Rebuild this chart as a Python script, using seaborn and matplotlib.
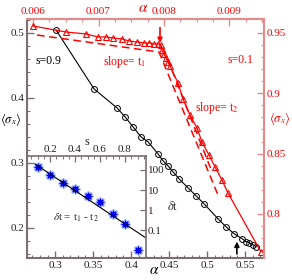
import seaborn as sns
import matplotlib.pyplot as plt
import matplotlib.ticker as mticker
import numpy as np

sns.set_style('ticks')
plt.rcParams['font.family'] = ['Liberation Serif', 'DejaVu Serif']
plt.rcParams['mathtext.fontset'] = 'stix'

# black series: s=0.9, bottom alpha vs left <sigma_x>
alpha_s09 = [0.3012, 0.3512, 0.3814, 0.3920, 0.4025, 0.4130, 0.4222, 0.4354, 0.4420,
             0.4485, 0.4551, 0.4630, 0.4748, 0.4854, 0.4959, 0.5143, 0.5248, 0.5354,
             0.5459, 0.5512, 0.5551, 0.5604, 0.5643]
sigma_s09 = [0.5046, 0.4138, 0.3846, 0.3708, 0.3554, 0.3400, 0.3323, 0.3138, 0.3030,
             0.2954, 0.2862, 0.2754, 0.2615, 0.2492, 0.2369, 0.2138, 0.2015, 0.1908,
             0.1831, 0.1785, 0.1769, 0.1738, 0.1708]

# red series: s=0.1, top alpha vs right <sigma_x>
alpha_s01 = [0.006000, 0.006504, 0.006809, 0.006992, 0.007115, 0.007221, 0.007359,
             0.007466, 0.007588, 0.007695, 0.007771, 0.007847, 0.007908, 0.007954,
             0.007969, 0.007999, 0.008030, 0.008060, 0.008091, 0.008214, 0.008290,
             0.008397, 0.008504, 0.008580, 0.008687, 0.008779, 0.008885, 0.008977,
             0.009481]
sigma_s01 = [0.9558, 0.9508, 0.9492, 0.9467, 0.9467, 0.9459, 0.9450, 0.9434, 0.9425,
             0.9417, 0.9417, 0.9409, 0.9409, 0.9400, 0.9359, 0.9326, 0.9293, 0.9260,
             0.9226, 0.9085, 0.8953, 0.8820, 0.8712, 0.8596, 0.8488, 0.8389, 0.8281,
             0.8173, 0.7684]

# dashed guide lines (slopes t1, t2)
fit1_alpha = [0.006061, 0.007924, 0.008824]
fit1_sigma = [0.9483, 0.9342, 0.8157]
fit2_alpha = [0.007985, 0.008710]
fit2_sigma = [0.9380, 0.8380]

# inset: delta t vs s
s_vals = [0.1, 0.2, 0.3, 0.4, 0.5, 0.6, 0.7, 0.8, 0.9]
dt_vals = [141, 56, 22.4, 11.2, 5.0, 2.5, 0.63, 0.2, 0.01]
dt_fit_s = [0.08, 0.968]
dt_fit = [200, 0.04]

W, H = 292, 280
fig = plt.figure(figsize=(W / 100, H / 100), dpi=100)

def px(x0, y0, x1, y1):
    return [x0 / W, 1 - y1 / H, (x1 - x0) / W, (y1 - y0) / H]

gray = '#7a6e6e'
pink = '#e58a8a'
red = '#ff0000'

ax = fig.add_axes(px(27, 19, 264, 258))
ax2 = fig.add_axes(px(27, 19, 264, 258), facecolor='none')
ins = fig.add_axes(px(27, 156, 146, 258), facecolor='none')

# main black axis
sns.lineplot(x=alpha_s09, y=sigma_s09, ax=ax, color='black', lw=0.8, sort=False,
             estimator=None, marker='o', markersize=4.2, markerfacecolor='none',
             markeredgecolor='black', markeredgewidth=0.7)
ax.set_xlim(0.263, 0.575)
ax.set_ylim(0.1532, 0.5215)
ax.xaxis.set_major_locator(mticker.MultipleLocator(0.05))
ax.xaxis.set_minor_locator(mticker.MultipleLocator(0.01))
ax.yaxis.set_major_locator(mticker.MultipleLocator(0.1))
ax.yaxis.set_minor_locator(mticker.MultipleLocator(0.02))
ax.xaxis.set_major_formatter(mticker.FuncFormatter(lambda v, p: f'{v:g}'))
ax.yaxis.set_major_formatter(mticker.FuncFormatter(lambda v, p: f'{v:g}'))
for sp in ['top', 'right']:
    ax.spines[sp].set_visible(False)
for sp in ['left', 'bottom']:
    ax.spines[sp].set_color(gray)
    ax.spines[sp].set_linewidth(1.5)
ax.tick_params(which='both', direction='in', color=gray, labelsize=8, pad=2,
               labelcolor='#222222')
ax.tick_params(which='major', length=5, width=1)
ax.tick_params(which='minor', length=2.5, width=0.8)
ax.set_xlabel('')
ax.set_ylabel('')

# red axis (top / right)
sns.lineplot(x=alpha_s01, y=sigma_s01, ax=ax2, color=red, lw=0.9, sort=False,
             estimator=None, marker='^', markersize=3.8, markerfacecolor='none',
             markeredgecolor=red, markeredgewidth=0.8)
sns.lineplot(x=fit1_alpha, y=fit1_sigma, ax=ax2, color=red, lw=1.1, sort=False,
             estimator=None, linestyle=(0, (5, 3)))
sns.lineplot(x=fit2_alpha, y=fit2_sigma, ax=ax2, color=red, lw=1.1, sort=False,
             estimator=None, linestyle=(0, (5, 3)))
ax2.set_xlim(0.005908, 0.009527)
ax2.set_ylim(0.7634, 0.9616)
ax2.xaxis.tick_top()
ax2.yaxis.tick_right()
ax2.xaxis.set_major_locator(mticker.MultipleLocator(0.001))
ax2.xaxis.set_minor_locator(mticker.MultipleLocator(0.00025))
ax2.yaxis.set_major_locator(mticker.MultipleLocator(0.05))
ax2.yaxis.set_minor_locator(mticker.MultipleLocator(0.01))
ax2.xaxis.set_major_formatter(mticker.FuncFormatter(lambda v, p: f'{v:.3f}'))
ax2.yaxis.set_major_formatter(mticker.FuncFormatter(lambda v, p: f'{v:g}'))
for sp in ['left', 'bottom']:
    ax2.spines[sp].set_visible(False)
for sp in ['top', 'right']:
    ax2.spines[sp].set_color(pink)
    ax2.spines[sp].set_linewidth(1.5)
ax2.tick_params(which='both', direction='in', color=pink, labelsize=8, pad=2,
                labelcolor=red)
ax2.tick_params(which='major', length=5, width=1)
ax2.tick_params(which='minor', length=2.5, width=0.8)
ax2.set_xlabel('')
ax2.set_ylabel('')

ax2.text(0.00916, 0.9276, 's=0.1', color=red, fontsize=8.5, ha='center', va='center')
ax2.text(0.007405, 0.926, r'slope= t$_1$', color=red, fontsize=8.5, ha='center', va='center')
ax2.text(0.00881, 0.8878, r'slope= t$_2$', color=red, fontsize=8.5, ha='center', va='center')
ax2.annotate('', xy=(0.007939, 0.9417), xytext=(0.007939, 0.9545),
             arrowprops=dict(arrowstyle='-|>', color=red, lw=1.2, mutation_scale=7,
                             shrinkA=0, shrinkB=0))
ax.text(0.2906, 0.457, 's=0.9', color='black', fontsize=8.5, ha='center', va='center')
ax.annotate('', xy=(0.5393, 0.1785), xytext=(0.5393, 0.1595),
            arrowprops=dict(arrowstyle='-|>', color='black', lw=1.2, mutation_scale=7,
                            shrinkA=0, shrinkB=0))

fig.text(11 / W, 1 - 120 / H, r'$\langle\sigma_x\rangle$', fontsize=9, ha='center',
         va='center', color='black')
fig.text(280 / W, 1 - 118 / H, r'$\langle\sigma_x\rangle$', fontsize=9, ha='center',
         va='center', color=red)
fig.text(154 / W, 1 - 271 / H, r'$\alpha$', fontsize=11, ha='center', va='center',
         color='black')
fig.text(143 / W, 1 - 8 / H, r'$\alpha$', fontsize=11, ha='center', va='center',
         color=red)

# inset
sns.lineplot(x=dt_fit_s, y=dt_fit, ax=ins, color='black', lw=0.8, sort=False,
             estimator=None)
sns.scatterplot(x=s_vals, y=dt_vals, ax=ins, marker=(8, 2, 0), s=30, color='#a8bcff',
                linewidth=2.0, edgecolor='#a8bcff')
sns.scatterplot(x=s_vals, y=dt_vals, ax=ins, marker=(8, 2, 0), s=22, color='#0000ff',
                linewidth=0.9, edgecolor='#0000ff')
ins.set_yscale('log')
ins.set_xlim(0.016, 0.968)
ins.set_ylim(0.004, 500)
ins.xaxis.tick_top()
ins.xaxis.set_label_position('top')
ins.yaxis.tick_right()
ins.yaxis.set_label_position('right')
ins.xaxis.set_major_locator(mticker.MultipleLocator(0.2))
ins.xaxis.set_minor_locator(mticker.MultipleLocator(0.05))
ins.xaxis.set_major_formatter(mticker.FuncFormatter(lambda v, p: f'{v:g}'))
ins.yaxis.set_major_locator(mticker.FixedLocator([0.1, 1, 10, 100]))
ins.yaxis.set_minor_locator(mticker.LogLocator(subs=np.arange(2, 10)))
ins.yaxis.set_minor_formatter(mticker.NullFormatter())
ins.yaxis.set_major_formatter(mticker.FuncFormatter(lambda v, p: f'{v:g}'))
for sp in ['left', 'bottom']:
    ins.spines[sp].set_visible(False)
for sp in ['top', 'right']:
    ins.spines[sp].set_color(gray)
    ins.spines[sp].set_linewidth(1.2)
ins.tick_params(which='both', direction='in', color=gray, labelsize=8, pad=1.5,
                labelcolor='#222222')
ins.tick_params(which='major', length=4, width=0.9)
ins.tick_params(which='minor', length=2, width=0.7)
ins.set_xlabel('s', fontsize=9, labelpad=0)
ins.set_ylabel(r'$\delta$t', fontsize=9, rotation=0, labelpad=6, va='center')
ins.text(0.41, 0.39, r'$\delta$t = t$_1$ - t$_2$', transform=ins.transAxes, fontsize=8,
         ha='center', va='center')

fig.savefig('out.png', dpi=100)
